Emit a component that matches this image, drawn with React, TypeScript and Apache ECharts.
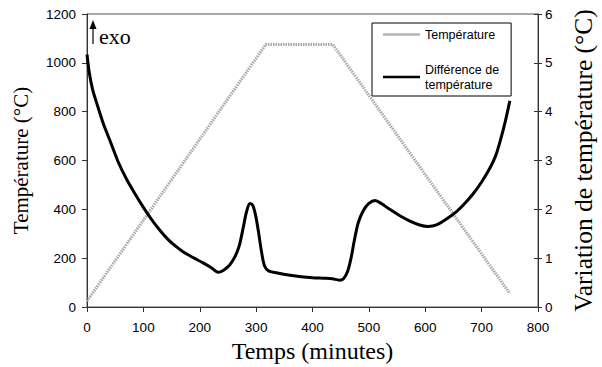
import React, { useEffect, useRef } from "react";
import * as echarts from "echarts";

const tempName = "Température";
const diffName = "Différence de température";

const temperature: [number, number][] = [
  [0, 24], [317, 1075], [436, 1075], [750, 55],
];

const difference: [number, number][] = [
  [0, 5.17], [4, 4.8], [10, 4.45], [19, 4.11], [30, 3.72], [40, 3.43], [55, 2.98],
  [70, 2.62], [84, 2.34], [100, 2.04], [114, 1.8], [130, 1.56], [144, 1.38],
  [160, 1.22], [173, 1.11], [190, 1.0], [205, 0.91], [220, 0.81], [233, 0.71],
  [243, 0.76], [253, 0.86], [262, 1.02], [270, 1.25], [277, 1.62], [283, 1.95],
  [289, 2.12], [294, 2.08], [299, 1.88], [304, 1.55], [310, 1.1], [315, 0.84],
  [322, 0.74], [340, 0.69], [360, 0.65], [380, 0.62], [400, 0.6], [420, 0.59],
  [435, 0.58], [448, 0.55], [455, 0.58], [462, 0.72], [468, 0.98], [474, 1.35],
  [481, 1.72], [490, 1.97], [500, 2.12], [511, 2.18], [522, 2.12], [537, 2.0],
  [555, 1.87], [573, 1.76], [590, 1.68], [605, 1.65], [620, 1.68], [635, 1.78],
  [656, 1.96], [670, 2.12], [685, 2.32], [700, 2.56], [715, 2.85], [725, 3.1],
  [733, 3.4], [742, 3.8], [750, 4.22],
];

const xTicks = { min: 0, max: 800, interval: 100 };
const leftTicks = { min: 0, max: 1200, interval: 200 };
const rightTicks = { min: 0, max: 6, interval: 1 };

const SANS = "'Liberation Sans', Arial, sans-serif";
const SERIF = "'Liberation Serif', 'Times New Roman', serif";
const AXIS = "#333";

export default function App() {
  const ref = useRef<HTMLDivElement>(null);
  useEffect(() => {
    if (!ref.current) return;
    const chart = echarts.init(ref.current, null, { renderer: "svg" });
    const labelStyle = {
      fontFamily: SANS, fontSize: 13.5, color: "#000",
      formatter: (v: number) => String(v),
    };
    chart.setOption({
      animation: false,
      backgroundColor: "#fff",
      grid: {
        left: 87, right: 64, top: 14, bottom: 60,
        show: true, borderColor: "#555", borderWidth: 1,
        outerBoundsMode: "none", containLabel: false,
      },
      legend: {
        orient: "vertical",
        left: 372, top: 23,
        padding: [4, 12, 4, 11],
        itemGap: 20,
        itemWidth: 37, itemHeight: 2.5,
        icon: "rect",
        backgroundColor: "#fff",
        borderColor: "#000", borderWidth: 1,
        textStyle: { fontFamily: SANS, fontSize: 12.5, color: "#000", lineHeight: 15 },
        formatter: (n: string) => (n === diffName ? "Différence de\ntempérature" : n),
        data: [
          { name: tempName, itemStyle: { color: "#b4b4b4" } },
          { name: diffName, itemStyle: { color: "#000" } },
        ],
      },
      xAxis: {
        type: "value", ...xTicks,
        name: "Temps (minutes)", nameLocation: "middle", nameGap: 31,
        nameTextStyle: { fontFamily: SERIF, fontSize: 24, color: "#000" },
        axisLine: { lineStyle: { color: AXIS, width: 1 } },
        axisTick: { show: true, length: 5, lineStyle: { color: AXIS } },
        axisLabel: { ...labelStyle, margin: 13 },
        splitLine: { show: false },
      },
      yAxis: [
        {
          type: "value", ...leftTicks, position: "left",
          name: "Température (°C)", nameLocation: "middle", nameGap: 56,
          nameTextStyle: { fontFamily: SERIF, fontSize: 21, color: "#000" },
          axisLine: { show: true, lineStyle: { color: AXIS } },
          axisTick: { show: true, length: 5, lineStyle: { color: AXIS } },
          axisLabel: { ...labelStyle, margin: 11 },
          splitLine: { show: false },
        },
        {
          type: "value", ...rightTicks, position: "right",
          name: "Variation de température (°C)", nameLocation: "middle", nameGap: 32,
          nameRotate: 90,
          nameTextStyle: { fontFamily: SERIF, fontSize: 25.5, color: "#000" },
          axisLine: { show: true, lineStyle: { color: AXIS } },
          axisTick: { show: true, length: 4, lineStyle: { color: AXIS } },
          axisLabel: { ...labelStyle, margin: 7 },
          splitLine: { show: false },
        },
        {
          type: "value", ...rightTicks, position: "right",
          axisLine: { show: false },
          axisTick: { show: true, inside: true, length: 4, lineStyle: { color: AXIS } },
          axisLabel: { show: false },
          splitLine: { show: false },
        },
      ],
      series: [
        {
          name: tempName, type: "line", yAxisIndex: 0, data: temperature,
          symbol: "none",
          lineStyle: { color: "#a8a8a8", width: 3, type: [1.5, 1] },
          itemStyle: { color: "#a8a8a8" },
          z: 2,
        },
        {
          name: diffName, type: "line", yAxisIndex: 1, data: difference,
          symbol: "none", smooth: 0.3,
          lineStyle: { color: "#000", width: 3 },
          itemStyle: { color: "#000" },
          z: 3,
        },
      ],
      graphic: [
        { type: "line", shape: { x1: 93, y1: 44, x2: 93, y2: 27 }, style: { stroke: "#000", lineWidth: 1.2 } },
        { type: "polygon", shape: { points: [[93, 20], [89.5, 29], [96.5, 29]] }, style: { fill: "#000" } },
        {
          type: "text", x: 99, y: 36,
          style: { text: "exo", font: `22px ${SERIF}`, fill: "#000", verticalAlign: "middle", align: "left" },
        },
      ],
    });
    return () => chart.dispose();
  }, []);
  return <div ref={ref} style={{ width: 602, height: 367, position: "absolute", left: 0, top: 0 }} />;
}
